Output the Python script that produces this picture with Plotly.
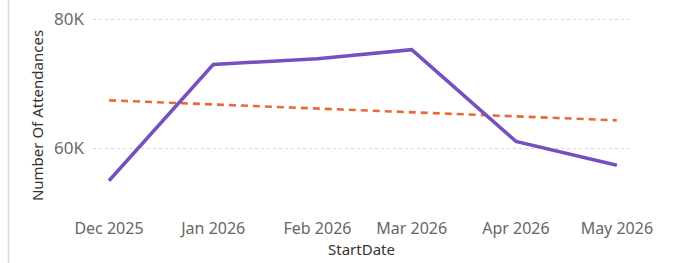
import plotly.graph_objects as go

months = ["2025-12-01", "2026-01-01", "2026-02-01", "2026-03-01", "2026-04-01", "2026-05-01"]
tick_labels = ["Dec 2025", "Jan 2026", "Feb 2026", "Mar 2026", "Apr 2026", "May 2026"]
attendances = [55000, 73000, 73900, 75300, 61100, 57400]
trend_dates = ["2025-12-01", "2026-05-01"]
trend_values = [67450, 64350]

W, H = 675, 263
ml, mr, mt, mb = 93, 45, 18, 50

fig = go.Figure()
fig.add_trace(go.Scatter(
    x=trend_dates, y=trend_values, mode="lines",
    line=dict(color="#E66C37", width=2.6, dash="7px,5px"),
    hoverinfo="skip", showlegend=False))
fig.add_trace(go.Scatter(
    x=months, y=attendances, mode="lines",
    line=dict(color="#7650C0", width=3.5),
    showlegend=False))

fig.update_layout(
    width=W, height=H,
    margin=dict(l=ml, r=mr, t=mt, b=mb),
    paper_bgcolor="white", plot_bgcolor="white",
    font=dict(family="Noto Sans, Open Sans, sans-serif", color="#666666", size=12),
    xaxis=dict(
        type="date", automargin=False,
        range=["2025-11-26 06:00", "2026-05-04 22:00"],
        tickvals=months, ticktext=tick_labels,
        showgrid=False, zeroline=False, showline=False,
        ticks="", ticklen=0, ticklabelstandoff=4,
        tickfont=dict(size=16, color="#666666"),
        title=dict(text="StartDate", font=dict(size=15, color="#333333"), standoff=4),
    ),
    yaxis=dict(
        range=[50000, 80200], automargin=False,
        tickvals=[60000, 80000], ticktext=["60K", "80K"],
        showgrid=True, gridcolor="#d6d6d6", griddash="dot", gridwidth=1,
        zeroline=False, showline=False, ticks="", ticklabelstandoff=8,
        tickfont=dict(size=17, color="#6a6a6a"),
        title=dict(text="Number Of Attendances", font=dict(size=15, color="#333333"), standoff=6),
    ),
    shapes=[dict(type="line", xref="paper", yref="paper",
                 x0=(8.5 - ml) / (W - ml - mr), x1=(8.5 - ml) / (W - ml - mr),
                 y0=-mb / (H - mt - mb), y1=(H - mt) / (H - mt - mb),
                 line=dict(color="#d8d8d8", width=1.5))],
)

fig.write_html("out.html", config={"displayModeBar": False},
               post_script="document.body.style.margin='0';document.body.style.overflow='hidden';")
